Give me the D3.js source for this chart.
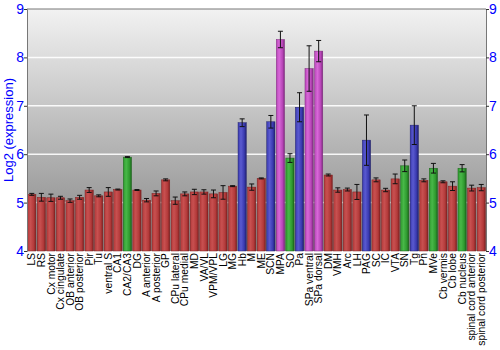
<!DOCTYPE html>
<html lang="en">
<head>
    <meta charset="UTF-8">
    <title>Log2 expression by region</title>
    <script src="https://d3js.org/d3.v7.min.js"></script>
    <style>
        body { margin: 0; background: #fff; }
        text { font-family: "Liberation Sans", Arial, sans-serif; }
    </style>
</head>
<body>
</body>
<script>
    const regions = ["LS", "RS", "Cx motor", "Cx cingulate", "OB anterior", "OB posterior", "Pir", "Tu",
        "ventral S", "CA1", "CA2/CA3", "DG", "A anterior", "A posterior", "GP", "CPu lateral", "CPu medial",
        "MD", "VA/VL", "VPM/VPL", "LG", "MG", "Hb", "M", "ME", "SCN", "MPA", "SO", "Pa", "SPa ventral",
        "SPa dorsal", "DM", "VMH", "Arc", "LH", "PAG", "SC", "IC", "VTA", "SN", "Tg", "Pn", "MVe",
        "Cb vermis", "Cb lobe", "Cb nucleus", "spinal cord anterior", "spinal cord posterior"];
    const values = [5.17, 5.11, 5.10, 5.10, 5.04, 5.11, 5.26, 5.14, 5.22, 5.27, 5.94, 5.26, 5.05, 5.19,
        5.47, 5.04, 5.18, 5.22, 5.22, 5.18, 5.21, 5.34, 6.65, 5.32, 5.50, 6.67, 8.37, 5.92, 6.97, 7.77,
        8.13, 5.57, 5.26, 5.27, 5.22, 6.29, 5.47, 5.26, 5.49, 5.76, 6.60, 5.46, 5.71, 5.43, 5.34, 5.71,
        5.30, 5.31];
    const errors = [0.02, 0.08, 0.075, 0.03, 0.035, 0.04, 0.05, 0.02, 0.09, 0.01, 0.01, 0.01, 0.035, 0.05,
        0.02, 0.075, 0.04, 0.055, 0.045, 0.08, 0.14, 0.01, 0.08, 0.065, 0.01, 0.13, 0.17, 0.09, 0.30, 0.47,
        0.22, 0.02, 0.045, 0.03, 0.155, 0.52, 0.04, 0.035, 0.1, 0.12, 0.40, 0.03, 0.1, 0.02, 0.09, 0.075,
        0.06, 0.065];
    // r = red, g = green, b = blue, m = magenta
    const groups = ["r", "r", "r", "r", "r", "r", "r", "r", "r", "r", "g", "r", "r", "r", "r", "r", "r",
        "r", "r", "r", "r", "r", "b", "r", "r", "b", "m", "g", "b", "m", "m", "r", "r", "r", "r", "b",
        "r", "r", "r", "g", "b", "r", "g", "r", "r", "g", "r", "r"];
    const yTicks = [4, 5, 6, 7, 8, 9];

    const W = 500, H = 350;
    const margin = {top: 9, right: 14, bottom: 99, left: 27};
    const colors = {
        r: ["#c85050", "#b33a3a", "#7e2020"],
        g: ["#48b848", "#2f9a2f", "#1b641b"],
        b: ["#5a5ad0", "#3a3ab0", "#20206e"],
        m: ["#d868d8", "#b845b8", "#7e2a7e"]
    };

    const svg = d3.select("body").append("svg").attr("width", W).attr("height", H);
    const defs = svg.append("defs");

    const bg = defs.append("linearGradient").attr("id", "bg").attr("x1", 0).attr("y1", 0).attr("x2", 0).attr("y2", 1);
    bg.append("stop").attr("offset", "0%").attr("stop-color", "#f2f2f2");
    bg.append("stop").attr("offset", "100%").attr("stop-color", "#858585");

    Object.keys(colors).forEach(k => {
        const g = defs.append("linearGradient").attr("id", "bar-" + k).attr("x1", 0).attr("y1", 0).attr("x2", 1).attr("y2", 0);
        g.append("stop").attr("offset", "0%").attr("stop-color", colors[k][1]);
        g.append("stop").attr("offset", "35%").attr("stop-color", colors[k][0]);
        g.append("stop").attr("offset", "75%").attr("stop-color", colors[k][1]);
        g.append("stop").attr("offset", "100%").attr("stop-color", colors[k][2]);
    });

    const x = d3.scaleBand().domain(regions).range([margin.left, W - margin.right]).paddingInner(0.14).paddingOuter(0.07);
    const y = d3.scaleLinear().domain([4, 9]).range([H - margin.bottom, margin.top]);

    svg.append("rect")
        .attr("x", margin.left).attr("y", margin.top)
        .attr("width", W - margin.left - margin.right).attr("height", H - margin.top - margin.bottom)
        .style("fill", "url(#bg)");

    svg.append("g").selectAll("line").data(yTicks.slice(1, -1)).join("line")
        .attr("x1", margin.left).attr("x2", W - margin.right)
        .attr("y1", d => y(d)).attr("y2", d => y(d))
        .attr("stroke", "#fff").attr("stroke-opacity", d => d === 5 ? 0.6 : 0.9).attr("stroke-width", 1.5);

    svg.append("line").attr("x1", margin.left).attr("x2", W - margin.right)
        .attr("y1", margin.top).attr("y2", margin.top).attr("stroke", "#777");

    const bars = svg.append("g").selectAll("g").data(regions).join("g");
    bars.append("rect")
        .attr("x", d => x(d)).attr("width", x.bandwidth())
        .attr("y", (d, i) => y(values[i]))
        .attr("height", (d, i) => y(4) - y(values[i]))
        .style("fill", (d, i) => "url(#bar-" + groups[i] + ")")
        .attr("stroke", (d, i) => colors[groups[i]][2]).attr("stroke-width", 0.5);

    const cx = d => x(d) + x.bandwidth() / 2;
    bars.append("line")
        .attr("x1", cx).attr("x2", cx)
        .attr("y1", (d, i) => y(values[i] - errors[i])).attr("y2", (d, i) => y(values[i] + errors[i]))
        .attr("stroke", "#111").attr("stroke-width", 1);
    [1, -1].forEach(s => {
        bars.append("line")
            .attr("x1", d => cx(d) - 2.5).attr("x2", d => cx(d) + 2.5)
            .attr("y1", (d, i) => y(values[i] + s * errors[i])).attr("y2", (d, i) => y(values[i] + s * errors[i]))
            .attr("stroke", "#111").attr("stroke-width", 1);
    });

    const yl = svg.append("g").attr("transform", `translate(${margin.left},0)`)
        .call(d3.axisLeft(y).tickValues(yTicks).tickSize(3).tickFormat(d3.format("d")));
    const yr = svg.append("g").attr("transform", `translate(${W - margin.right},0)`)
        .call(d3.axisRight(y).tickValues(yTicks).tickSize(3).tickFormat(d3.format("d")));
    [yl, yr].forEach(a => {
        a.select(".domain").attr("stroke", "#777");
        a.selectAll(".tick line").attr("stroke", "#333");
        a.selectAll(".tick text").attr("fill", "#0000ff").style("font-size", "14px")
            .style("font-family", "'Liberation Sans', Arial, sans-serif");
    });
    yl.selectAll(".tick text").attr("x", -3);
    yr.selectAll(".tick text").attr("x", 3);

    const xa = svg.append("g").attr("transform", `translate(0,${H - margin.bottom})`)
        .call(d3.axisBottom(x).tickSize(0));
    xa.select(".domain").remove();
    xa.selectAll(".tick text")
        .attr("transform", "rotate(-90)")
        .attr("x", -2).attr("y", 0).attr("dy", "0.35em")
        .style("text-anchor", "end").style("font-size", "10.3px").attr("fill", "#000")
        .style("font-family", "'Liberation Sans', Arial, sans-serif");

    svg.append("text")
        .attr("transform", `translate(13,${(margin.top + H - margin.bottom) / 2}) rotate(-90)`)
        .attr("text-anchor", "middle").attr("fill", "#0000ff").style("font-size", "13px")
        .text("Log2 (expression)");
</script>
</html>
